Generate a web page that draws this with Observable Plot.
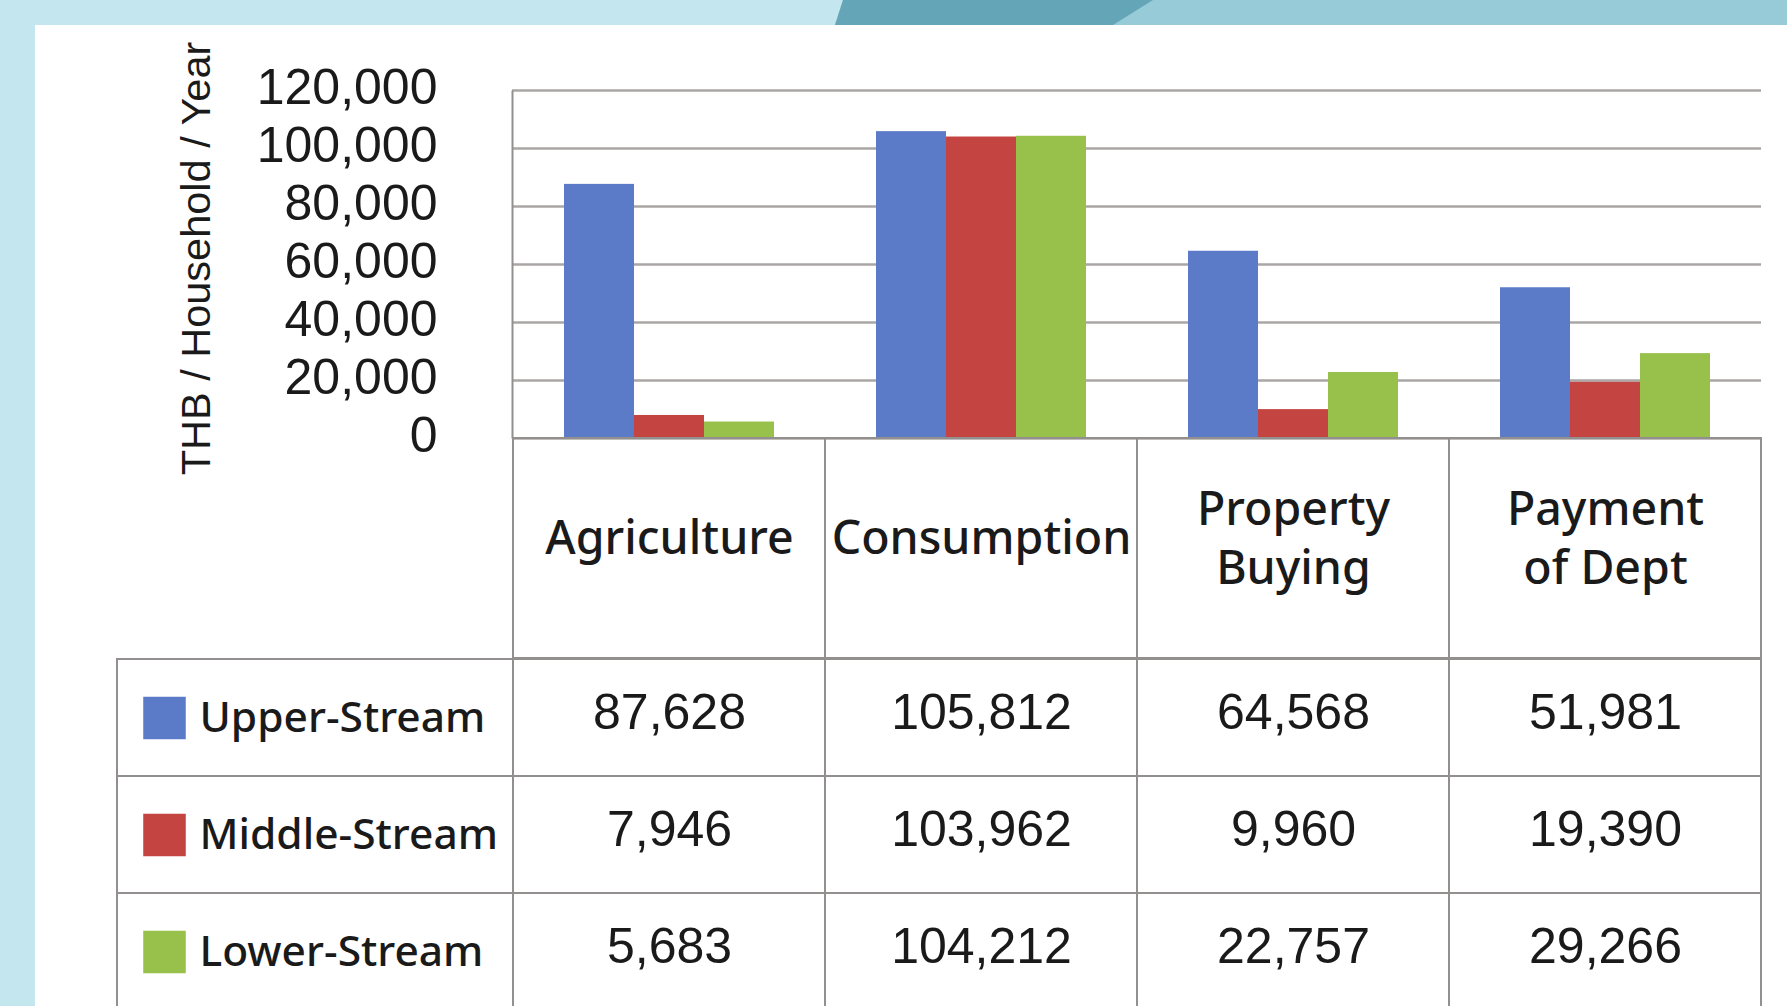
<!DOCTYPE html>
<html>
<head>
<meta charset="utf-8">
<script src="https://cdn.jsdelivr.net/npm/d3@7"></script>
<script src="https://cdn.jsdelivr.net/npm/@observablehq/plot@0.6"></script>
<style>
html, body { margin: 0; padding: 0; background: #fff; overflow: hidden; }
#page { position: relative; width: 1787px; height: 1006px; background: #fff; overflow: hidden; }
#page > svg { position: absolute; left: 0; top: 0; }
</style>
</head>
<body>
<div id="page">
  <svg id="decor" width="1787" height="1006">
    <rect x="0" y="0" width="1787" height="25" fill="#98cbd8"></rect>
    <polygon points="0,0 843,0 835,25 0,25" fill="#c4e6ef"></polygon>
    <polygon points="843,0 1153,0 1113,25 835,25" fill="#64a5b7"></polygon>
    <rect x="0" y="0" width="35" height="1006" fill="#c4e6ef"></rect>
  </svg>
</div>
<script>
// ---- data ----
const categories = ["Agriculture", "Consumption", "Property Buying", "Payment of Dept"];
const headerLabels = ["Agriculture", "Consumption", "Property\nBuying", "Payment\nof Dept"];
const series = ["Upper-Stream", "Middle-Stream", "Lower-Stream"];
const upperStream = [87628, 105812, 64568, 51981];
const middleStream = [7946, 103962, 9960, 19390];
const lowerStream = [5683, 104212, 22757, 29266];
const yTicks = [0, 20000, 40000, 60000, 80000, 100000, 120000];
const yLabel = "THB / Household / Year";
const seriesColors = ["#5b7bc8", "#c44441", "#97c14b"];

// ---- build ----
const valuesBySeries = [upperStream, middleStream, lowerStream];
const data = series.flatMap((s, i) =>
  categories.map((c, j) => ({category: c, series: s, value: valuesBySeries[i][j]})));
const fmt = d3.format(",");

const W = 1787, H = 1006;
const L = 512, R = 26;
const chartTop = 90, baseline = 438, headerBottom = 658, tableLeft = 117;
const textColor = "#1a1a1a";
const gridColor = "#aaa6a6";
const lineColor = "#948f8f";
const color = {domain: series, range: seriesColors};
const xScale = {domain: categories, padding: 0, axis: null};
const fw = W - L - R, fh = baseline - chartTop;
const transparent = {background: "transparent", overflow: "visible"};

const chart = Plot.plot({
  width: W, height: H,
  marginLeft: L, marginRight: R, marginTop: chartTop, marginBottom: H - baseline,
  style: transparent,
  x: xScale,
  y: {domain: [0, 120000], axis: null},
  color,
  marks: [
    Plot.ruleY(yTicks, {stroke: gridColor, strokeWidth: 2.5}),
    Plot.frame({stroke: lineColor, strokeWidth: 2, strokeDasharray: `0 ${2 * fw + fh} ${fh}`}),
    ...series.map((s, i) => Plot.barY(data.filter(d => d.series === s), {
      x: "category", y: "value", fill: "series",
      insetLeft: 121, insetRight: 121, dx: (i - 1) * 70
    })),
    Plot.text(yTicks, {
      y: d => d, text: d => fmt(d), frameAnchor: "left", textAnchor: "end",
      dx: -75, dy: -3, fontSize: 50, fontFamily: "Liberation Sans", fill: textColor
    }),
    Plot.text([yLabel], {
      text: d => d, frameAnchor: "left", textAnchor: "middle", rotate: -90, dx: -316, dy: -6,
      fontSize: 41.5, fontFamily: "Liberation Sans", fill: textColor
    })
  ]
});

const header = Plot.plot({
  width: W, height: H,
  marginLeft: L, marginRight: R, marginTop: baseline, marginBottom: H - headerBottom,
  style: transparent,
  x: xScale,
  marks: [
    Plot.cell(categories, {x: d => d, fill: "none", stroke: lineColor, strokeWidth: 2}),
    Plot.text(categories, {
      x: d => d, text: (d, i) => headerLabels[i], dy: -13, lineHeight: 1.27,
      fontSize: 46.5, fontWeight: 500, fontFamily: "Noto Sans", fill: textColor
    })
  ]
});

const body = Plot.plot({
  width: W, height: H + 4,
  marginLeft: L, marginRight: R, marginTop: headerBottom, marginBottom: 0,
  style: transparent,
  x: xScale,
  y: {domain: series, padding: 0, axis: null},
  color,
  marks: [
    Plot.cell(series, {y: d => d, insetLeft: -(L - tableLeft), fill: "none", stroke: lineColor, strokeWidth: 2}),
    Plot.cell(data, {x: "category", y: "series", fill: "none", stroke: lineColor, strokeWidth: 2}),
    Plot.dot(series, {y: d => d, frameAnchor: "left", dx: -348, symbol: "square", r: 24, fill: d => d}),
    Plot.text(series, {
      y: d => d, text: d => d, frameAnchor: "left", textAnchor: "start", dx: -313,
      fontSize: 42.5, fontWeight: 500, fontFamily: "Noto Sans", fill: textColor
    }),
    Plot.text(data, {
      x: "category", y: "series", text: d => fmt(d.value), dy: -5,
      fontSize: 50, fontFamily: "Liberation Sans", fill: textColor
    })
  ]
});

const page = document.getElementById("page");
for (const el of [chart, header, body]) page.append(el);
</script>
</body>
</html>
